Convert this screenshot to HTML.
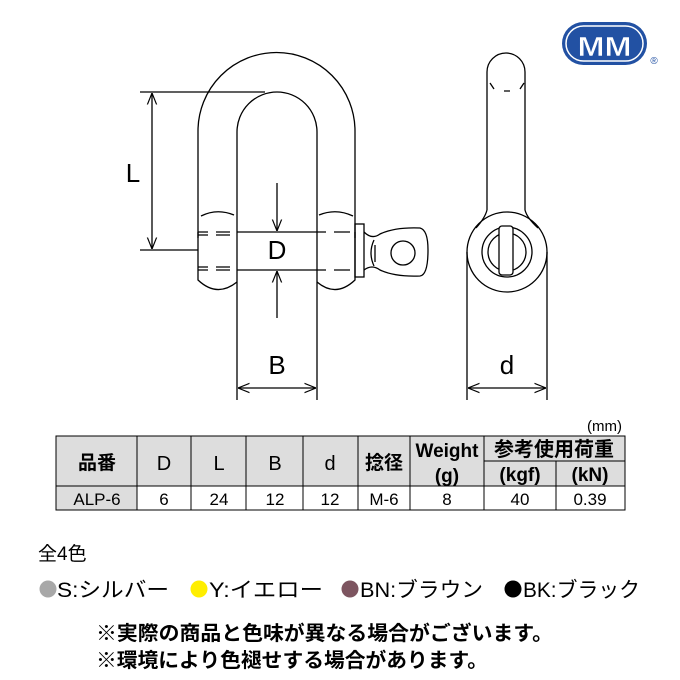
<!DOCTYPE html>
<html><head><meta charset="utf-8"><style>
html,body{margin:0;padding:0;background:#fff}
svg{display:block}
text{font-family:"Liberation Sans","Noto Sans CJK JP",sans-serif}
</style></head><body>
<svg width="680" height="680" viewBox="0 0 680 680" xmlns="http://www.w3.org/2000/svg">
<defs><marker id="a" viewBox="0 0 10 10" refX="10" refY="5" markerWidth="9" markerHeight="9" orient="auto-start-reverse"><path d="M0,1 L10,5 L0,9" fill="none" stroke="#000" stroke-width="1"/></marker></defs>
<g fill="none" stroke="#000" stroke-width="1.3">
<path d="M198,238 L198,131 A78.5,78.5 0 0 1 355,131 L355,238"/>
<path d="M237,400 L237,132 A40,40 0 0 1 317,132 L317,400"/>
<path d="M198,232 L198,280 Q217,298 237,282"/>
<path d="M355,232 L355,280 Q336,298 317,282"/>
<path d="M201,216 Q217,208 234,215"/>
<path d="M319,215 Q336,208 353,216"/>
<path d="M198,232 L208,232 M216,232 L230,232 M237,232 L326,232 M334,232 L350,232"/>
<path d="M198,270 L208,270 M216,270 L230,270 M237,270 L326,270 M334,270 L350,270"/>
<path d="M198,235 L208,235 M216,235 L230,235 M198,267 L208,267 M216,267 L230,267"/>
<rect x="355" y="224" width="9" height="53"/>
<path d="M364,232 Q372,240 380,234 Q395,227 420,228 Q428,230 428,250 Q428,275 420,276 Q395,277 380,270 Q372,264 364,270"/>
<path d="M375,245 L375,262 M374,240 Q368,253 374,266"/>
<circle cx="403" cy="253" r="12"/>
<path d="M140,92 L265,92 M140,250 L198,250"/>
<line x1="152" y1="93" x2="152" y2="249" marker-start="url(#a)" marker-end="url(#a)"/>
<line x1="277" y1="183" x2="277" y2="231" marker-end="url(#a)"/>
<line x1="277" y1="318" x2="277" y2="271" marker-end="url(#a)"/>
<line x1="238" y1="388" x2="316" y2="388" marker-start="url(#a)" marker-end="url(#a)"/>
<path d="M487,210 L487,72 A19,19 0 0 1 525,72 L525,210 Q527,218 538,228 M487,210 Q485,218 476,228"/>
<circle cx="507" cy="252" r="40"/>
<circle cx="507" cy="252" r="25"/>
<circle cx="507" cy="252" r="19"/>
<rect x="499" y="226" width="14" height="49" rx="3" fill="#fff"/>
<path d="M490,83 L494,89 M504,91 L510,91 M520,89 L524,83"/>
<path d="M467,252 L467,400 M547,252 L547,400"/>
<line x1="468" y1="388" x2="546" y2="388" marker-start="url(#a)" marker-end="url(#a)"/>
</g>
<g font-size="26" text-anchor="middle">
<text x="133" y="182">L</text>
<text x="277" y="259">D</text>
<text x="277" y="374">B</text>
<text x="507" y="374">d</text>
</g>
<rect x="562" y="22" width="85" height="43" rx="21.5" fill="#2251a3"/>
<rect x="566" y="26" width="77" height="35" rx="17.5" fill="none" stroke="#fff" stroke-width="1.5"/>
<text x="604.5" y="56" font-size="28" font-weight="bold" fill="#fff" stroke="#2251a3" stroke-width="0.5" text-anchor="middle" textLength="54" lengthAdjust="spacingAndGlyphs">MM</text>
<text x="654" y="64" font-size="10" fill="#2251a3" text-anchor="middle">®</text>
<text x="622" y="431" font-size="15" text-anchor="end">(mm)</text>
<rect x="56" y="436" width="569" height="50" fill="#ddd"/>
<rect x="56" y="486" width="81" height="24" fill="#ddd"/>
<g stroke="#000" stroke-width="1" fill="none">
<rect x="56" y="436" width="569" height="74"/>
<path d="M56,486 H625 M484,461 H625 M137,436V510 M191,436V510 M246,436V510 M303,436V510 M358,436V510 M410,436V510 M484,436V510 M556,461V510"/>
</g>
<g text-anchor="middle">
<g font-size="19" font-weight="bold">
<text x="97" y="469">品番</text>
<text x="384" y="469">捻径</text>
<text x="447" y="457">Weight</text>
<text x="447" y="482">(g)</text>
<text x="554" y="456" font-size="20">参考使用荷重</text>
<text x="520" y="481">(kgf)</text>
<text x="590" y="481">(kN)</text>
</g>
<g font-size="20">
<text x="164" y="470">D</text>
<text x="219" y="470">L</text>
<text x="275" y="470">B</text>
<text x="330" y="470">d</text>
</g>
<g font-size="17"><text x="97" y="505">ALP-6</text>
<text x="164" y="505">6</text><text x="219" y="505">24</text><text x="275" y="505">12</text><text x="330" y="505">12</text><text x="384" y="505">M-6</text><text x="447" y="505">8</text><text x="520" y="505">40</text><text x="590" y="505">0.39</text></g>
</g>
<text x="38" y="560" font-size="19">全4色</text>
<circle cx="48" cy="589" r="8.5" fill="#a8a8a8"/>
<circle cx="199" cy="589" r="8.5" fill="#ffee00"/>
<circle cx="350" cy="589" r="8.5" fill="#7d5560"/>
<circle cx="513" cy="589" r="8.5" fill="#000"/>
<g font-size="21">
<text x="57" y="597" textLength="112" lengthAdjust="spacingAndGlyphs">S:シルバー</text>
<text x="209" y="597" textLength="114" lengthAdjust="spacingAndGlyphs">Y:イエロー</text>
<text x="360" y="597" textLength="123" lengthAdjust="spacingAndGlyphs">BN:ブラウン</text>
<text x="523" y="597" textLength="117" lengthAdjust="spacingAndGlyphs">BK:ブラック</text>
</g>
<g font-size="20" font-weight="bold">
<text x="96" y="640" textLength="457" lengthAdjust="spacingAndGlyphs">※実際の商品と色味が異なる場合がございます。</text>
<text x="96" y="667" textLength="392" lengthAdjust="spacingAndGlyphs">※環境により色褪せする場合があります。</text>
</g>
</svg>
</body></html>
